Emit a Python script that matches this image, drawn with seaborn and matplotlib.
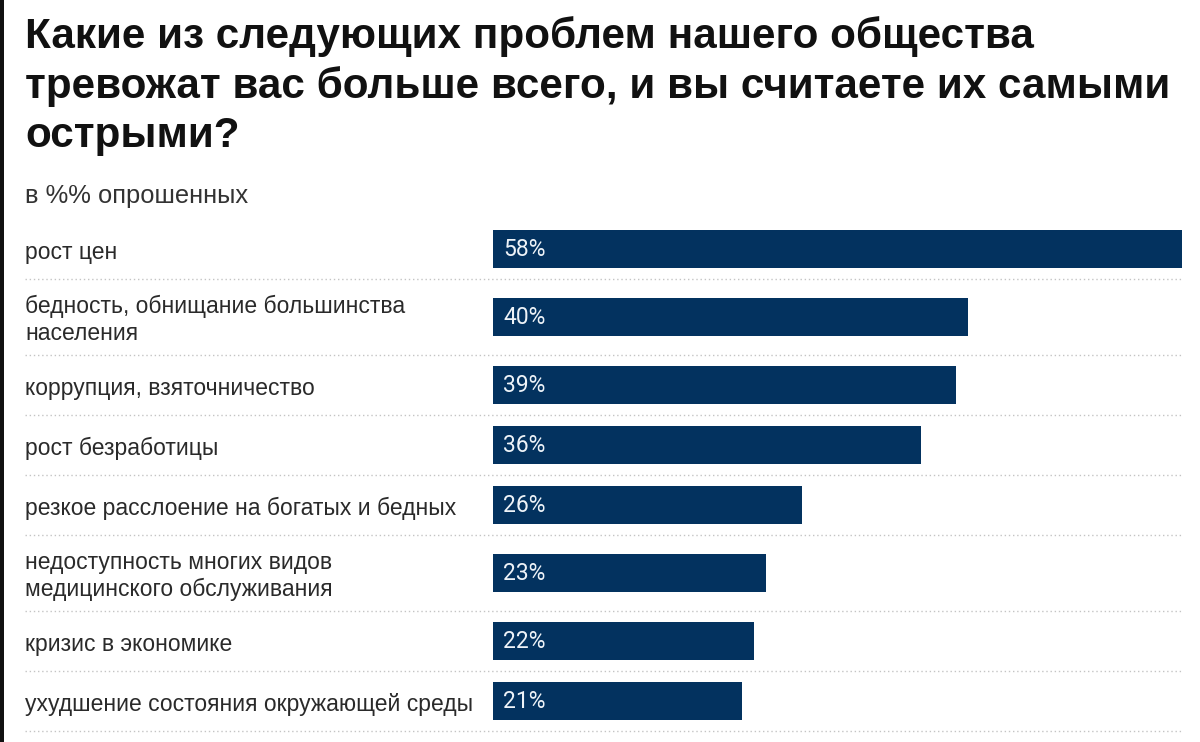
import numpy as np
import pandas as pd
import matplotlib
matplotlib.use("Agg")
import matplotlib.pyplot as plt
import matplotlib.patches as mpatches
import seaborn as sns

# данные
problems = [
    "рост цен",
    "бедность, обнищание большинства\nнаселения",
    "коррупция, взяточничество",
    "рост безработицы",
    "резкое расслоение на богатых и бедных",
    "недоступность многих видов\nмедицинского обслуживания",
    "кризис в экономике",
    "ухудшение состояния окружающей среды",
]
shares = [58, 40, 39, 36, 26, 23, 22, 21]
value_labels = [f"{v}%" for v in shares]

title = ("Какие из следующих проблем нашего общества\n"
         "тревожат вас больше всего, и вы считаете их самыми\n"
         "острыми?")
subtitle = "в %% опрошенных"

sns.set_theme(style="white")
plt.rcParams["font.family"] = ["Liberation Sans", "DejaVu Sans"]

W, H = 1200, 742
fig = plt.figure(figsize=(12, 7.42), dpi=100)

# высота строки: двухстрочные подписи занимают больше места
row_h = np.array([76 if "\n" in p else 60 for p in problems])
bottoms = np.cumsum(row_h)
centers = bottoms - row_h / 2

top_px, left_px, right_px, bar_x0 = 219, 25, 1182, 493
ax = fig.add_axes([left_px / W, 1 - (top_px + bottoms[-1]) / H,
                   (right_px - left_px) / W, bottoms[-1] / H])

xmax = max(shares)
xmin = -xmax * (bar_x0 - left_px) / (right_px - bar_x0)

df = pd.DataFrame({"y": centers, "share": shares})
sns.barplot(data=df, x="share", y="y", orient="y", native_scale=True,
            width=38 / 60, color="#03325f", saturation=1, linewidth=0, ax=ax)

ax.set_xlim(xmin, xmax)
ax.set_ylim(bottoms[-1], 0)
ax.axis("off")

# разделители
for b in bottoms:
    ax.axhline(b, color="#c4c4c4", ls=(0, (1, 2)), lw=1, clip_on=False)

# подписи строк и значения
for c, lab, val in zip(centers, problems, value_labels):
    ax.annotate(lab, (xmin, c), xytext=(0, -3), textcoords="offset pixels",
                ha="left", va="center", fontsize=16.5, color="#2a2a2a",
                linespacing=1.22)
    ax.annotate(val, (0, c), xytext=(10, -1), textcoords="offset pixels",
                ha="left", va="center", fontsize=16.5, color="#eef3f8",
                family=["Roboto", "DejaVu Sans"])

fig.text(left_px / W, 1 - 16 / H, title, ha="left", va="top", fontsize=30.4,
         fontweight="bold", color="#111111", linespacing=1.29)
fig.text(left_px / W, 1 - 196 / H, subtitle, ha="left", va="center",
         fontsize=18.4, color="#333333")

# чёрная полоса слева
fig.add_artist(mpatches.Rectangle((0, 0), 4 / W, 1, transform=fig.transFigure,
                                  color="#111111", lw=0))

fig.savefig("out.png", dpi=100)
